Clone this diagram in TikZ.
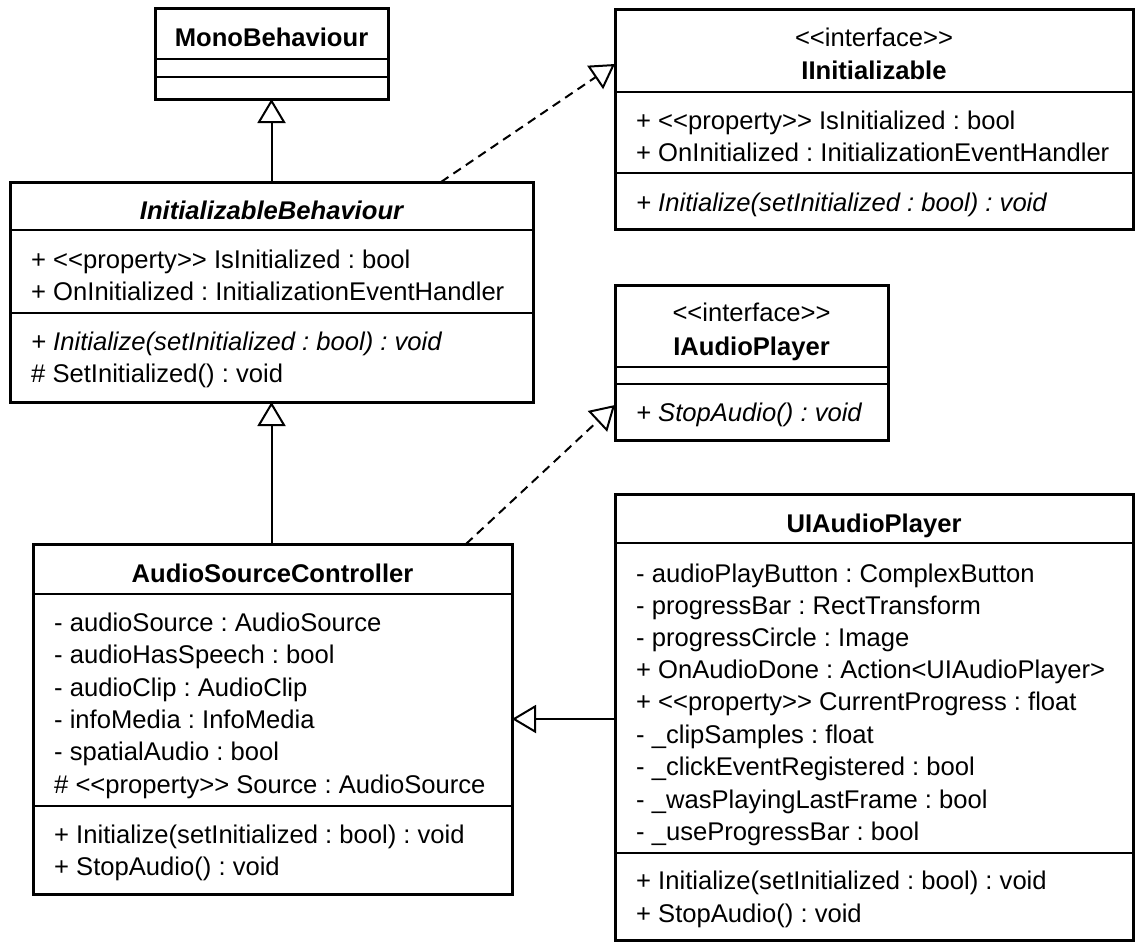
\documentclass[tikz,border=0pt]{standalone}
\usepackage{fontspec}
\setmainfont{Liberation Sans}
\usetikzlibrary{arrows.meta}
\newcommand{\guil}[1]{<\kern0pt<#1>\kern0pt>}
\frenchspacing
\begin{document}
\begin{tikzpicture}[x=1pt,y=-1pt,
  box/.style={draw, line width=3pt, fill=white, inner sep=0pt, outer sep=0pt},
  divider/.style={line width=2.2pt},
  txt/.style={anchor=base west, inner sep=0pt, font=\fontsize{25.6}{30}\selectfont},
  mtxt/.style={txt, font=\fontsize{25.6}{30}\selectfont\itshape},
  ster/.style={anchor=base, inner sep=0pt, font=\fontsize{25.6}{30}\selectfont},
  ttl/.style={anchor=base, inner sep=0pt, font=\fontsize{25.6}{30}\selectfont\bfseries},
  gen/.style={line width=2pt, -{Triangle[open, length=24pt, width=28pt]}},
  real/.style={gen, dash pattern=on 9pt off 6pt}]
\useasboundingbox (0,0) rectangle (1138,942);

% ---------- MonoBehaviour ----------
\node[box, minimum width=233pt, minimum height=90pt] (mono) at (271.5,54) {};
\draw[divider] (mono.west |- 0,59) -- (mono.east |- 0,59);
\draw[divider] (mono.west |- 0,77) -- (mono.east |- 0,77);
\node[ttl] (monoT) at (271.5,47) {MonoBehaviour};

% ---------- InitializableBehaviour ----------
\node[box, minimum width=523pt, minimum height=220pt] (ib) at (271.5,292) {};
\draw[divider] (ib.west |- 0,230) -- (ib.east |- 0,230);
\draw[divider] (ib.west |- 0,313) -- (ib.east |- 0,313);
\node[ttl, font=\fontsize{25.6}{30}\selectfont\bfseries\itshape] (ibT) at (271.5,219) {InitializableBehaviour};
\node[txt] (ib1) at (31,268) {+ \guil{property} IsInitialized : bool};
\node[txt] (ib2) at (31,300) {+ OnInitialized : InitializationEventHandler};
\node[mtxt] (ib3) at (31,350) {+ Initialize(setInitialized : bool) : void};
\node[txt] (ib4) at (31,382) {\# SetInitialized() : void};

% ---------- IInitializable ----------
\node[box, minimum width=518pt, minimum height=219pt] (iinit) at (874,119.5) {};
\draw[divider] (iinit.west |- 0,92) -- (iinit.east |- 0,92);
\draw[divider] (iinit.west |- 0,173) -- (iinit.east |- 0,173);
\node[ster] (iinitS) at (874,47) {\guil{interface}};
\node[ttl] (iinitT) at (874,80) {IInitializable};
\node[txt] (ii1) at (636,129) {+ \guil{property} IsInitialized : bool};
\node[txt] (ii2) at (636,161) {+ OnInitialized : InitializationEventHandler};
\node[mtxt] (ii3) at (636,211) {+ Initialize(setInitialized : bool) : void};

% ---------- IAudioPlayer ----------
\node[box, minimum width=273pt, minimum height=155pt] (iap) at (751.5,362.5) {};
\draw[divider] (iap.west |- 0,367) -- (iap.east |- 0,367);
\draw[divider] (iap.west |- 0,384) -- (iap.east |- 0,384);
\node[ster] (iapS) at (751.5,321) {\guil{interface}};
\node[ttl] (iapT) at (751.5,355) {IAudioPlayer};
\node[mtxt] (iap1) at (636,421) {+ StopAudio() : void};

% ---------- AudioSourceController ----------
\node[box, minimum width=479pt, minimum height=350pt] (asc) at (272.5,719) {};
\draw[divider] (asc.west |- 0,594) -- (asc.east |- 0,594);
\draw[divider] (asc.west |- 0,806) -- (asc.east |- 0,806);
\node[ttl] (ascT) at (272.5,582) {AudioSourceController};
\node[txt] (asc1) at (54,631) {- audioSource : AudioSource};
\node[txt] (asc2) at (54,663) {- audioHasSpeech : bool};
\node[txt] (asc3) at (54,696) {- audioClip : AudioClip};
\node[txt] (asc4) at (54,728) {- infoMedia : InfoMedia};
\node[txt] (asc5) at (54,760) {- spatialAudio : bool};
\node[txt] (asc6) at (54,793) {\# \guil{property} Source : AudioSource};
\node[txt] (asc7) at (54,843) {+ Initialize(setInitialized : bool) : void};
\node[txt] (asc8) at (54,875) {+ StopAudio() : void};

% ---------- UIAudioPlayer ----------
\node[box, minimum width=518pt, minimum height=446pt] (uiap) at (874,717) {};
\draw[divider] (uiap.west |- 0,543) -- (uiap.east |- 0,543);
\draw[divider] (uiap.west |- 0,853) -- (uiap.east |- 0,853);
\node[ttl] (uiapT) at (874,532) {UIAudioPlayer};
\node[txt] (ui1) at (636,582) {- audioPlayButton : ComplexButton};
\node[txt] (ui2) at (636,614) {- progressBar : RectTransform};
\node[txt] (ui3) at (636,646) {- progressCircle : Image};
\node[txt] (ui4) at (636,678) {+ OnAudioDone : Action<UIAudioPlayer>};
\node[txt] (ui5) at (636,710) {+ \guil{property} CurrentProgress : float};
\node[txt] (ui6) at (636,743) {- \_clipSamples : float};
\node[txt] (ui7) at (636,775) {- \_clickEventRegistered : bool};
\node[txt] (ui8) at (636,808) {- \_wasPlayingLastFrame : bool};
\node[txt] (ui9) at (636,840) {- \_useProgressBar : bool};
\node[txt] (ui10) at (636,889) {+ Initialize(setInitialized : bool) : void};
\node[txt] (ui11) at (636,922) {+ StopAudio() : void};

% ---------- connectors ----------
\coordinate (ibR) at (441,182);
\coordinate (iinitL) at (615,64);
\coordinate (ascR) at (466,544);
\coordinate (iapL) at (615,405);
\draw[gen] (ib.north) -- (mono.south);
\draw[gen] (asc.north -| ib.south) -- (ib.south);
\draw[gen] (uiap.west |- asc.east) -- (asc.east);
\draw[real] (ibR) -- (iinitL);
\draw[real] (ascR) -- (iapL);
\end{tikzpicture}
\end{document}
